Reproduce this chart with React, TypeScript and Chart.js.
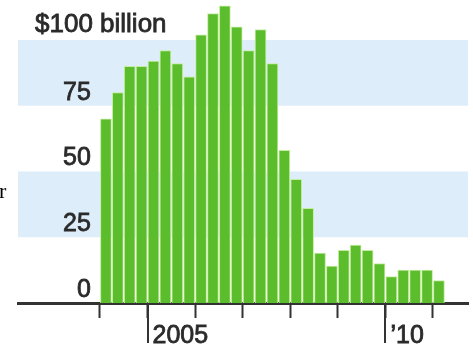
import React, { useEffect, useRef } from "react";
import { Chart, registerables } from "chart.js";

Chart.register(...registerables);

// Quarterly values, $ billion
const quarters = [
  "2004Q1", "2004Q2", "2004Q3", "2004Q4",
  "2005Q1", "2005Q2", "2005Q3", "2005Q4",
  "2006Q1", "2006Q2", "2006Q3", "2006Q4",
  "2007Q1", "2007Q2", "2007Q3", "2007Q4",
  "2008Q1", "2008Q2", "2008Q3", "2008Q4",
  "2009Q1", "2009Q2", "2009Q3", "2009Q4",
  "2010Q1", "2010Q2", "2010Q3", "2010Q4",
  "2011Q1",
];
const values = [
  70, 80, 90, 90,
  92, 96, 91, 86,
  102, 110, 113, 105,
  96, 104, 91, 58,
  47, 36, 19, 14,
  20, 22, 20, 15,
  10, 12.5, 12.5, 12.5,
  8.5,
];

const xTickYears = [2004, 2005, 2006, 2007, 2008, 2009, 2010, 2011];
const xTickLabels: Record<number, string> = { 2005: "2005", 2010: "\u201910" };
const longTickYears = [2005, 2010];

const yTickValues = [0, 25, 50, 75];
const yTopValue = 100;
const yTopLabel = "$100 billion";
const bandRanges: [number, number][] = [
  [75, 100],
  [25, 50],
];

const X_MIN = 2002.2763;
const X_MAX = 2011.736;
const Y_MAX = 115.2;

const FONT = '"Liberation Sans", Arial, sans-serif';
const TEXT = "#2a2a2a";
const STROKE = 0.8;

function quarterToX(q: string): number {
  const year = parseInt(q.slice(0, 4), 10);
  const qn = parseInt(q.slice(5), 10);
  return year + (qn - 0.5) / 4;
}

const decorPlugin = {
  id: "decor",
  beforeDraw(chart: any) {
    const { ctx, chartArea, scales } = chart;
    const y = scales.y;
    ctx.save();
    ctx.fillStyle = "#ddedfa";
    for (const [lo, hi] of bandRanges) {
      const t = y.getPixelForValue(hi);
      const b = y.getPixelForValue(lo);
      ctx.fillRect(chartArea.left, t, chartArea.right - chartArea.left, b - t);
    }
    ctx.restore();
  },
  afterDraw(chart: any) {
    const { ctx, scales } = chart;
    const x = scales.x;
    const y = scales.y;
    ctx.save();
    ctx.strokeStyle = "#333333";
    ctx.lineWidth = 2;
    for (const yr of longTickYears) {
      const px = Math.round(x.getPixelForValue(yr));
      ctx.beginPath();
      ctx.moveTo(px, x.top);
      ctx.lineTo(px, x.top + 40);
      ctx.stroke();
    }
    ctx.font = `26px ${FONT}`;
    ctx.fillStyle = TEXT;
    ctx.strokeStyle = TEXT;
    ctx.lineWidth = STROKE;
    ctx.textAlign = "left";
    ctx.textBaseline = "middle";
    const ty = y.getPixelForValue(yTopValue) - 15;
    ctx.strokeText(yTopLabel, 35, ty);
    ctx.fillText(yTopLabel, 35, ty);
    ctx.restore();
  },
};

function zeroPadding(scale: any) {
  scale.paddingTop = 0;
  scale.paddingBottom = 0;
  scale.paddingLeft = 0;
  scale.paddingRight = 0;
}

export default function App() {
  const canvasRef = useRef<HTMLCanvasElement | null>(null);

  useEffect(() => {
    const canvas = canvasRef.current;
    if (!canvas) return;
    const chart = new Chart(canvas, {
      type: "bar",
      data: {
        datasets: [
          {
            data: quarters.map((q, i) => ({ x: quarterToX(q), y: values[i] })),
            backgroundColor: "#5cbd2c",
            borderColor: "#c4eda0",
            borderWidth: 1,
            borderSkipped: "bottom",
            barThickness: 11,
          },
        ],
      },
      options: {
        animation: false,
        responsive: false,
        devicePixelRatio: 1,
        layout: { autoPadding: false, padding: { left: 18, right: 5, top: 0, bottom: 0 } },
        plugins: {
          legend: { display: false },
          tooltip: { enabled: false },
          title: { display: false },
        },
        scales: {
          x: {
            type: "linear",
            min: X_MIN,
            max: X_MAX,
            offset: false,
            z: 1,
            afterBuildTicks: (scale: any) => {
              scale.ticks = xTickYears.map((v) => ({ value: v }));
            },
            afterFit: (scale: any) => {
              scale.height = 46;
              zeroPadding(scale);
            },
            grid: {
              display: true,
              offset: false,
              drawOnChartArea: false,
              drawTicks: true,
              tickLength: 15,
              tickWidth: 2,
              tickColor: "#333333",
            },
            border: { display: true, color: "#333333", width: 3 },
            ticks: {
              autoSkip: false,
              maxRotation: 0,
              align: "start",
              labelOffset: 5,
              padding: 3,
              color: TEXT,
              textStrokeColor: TEXT,
              textStrokeWidth: STROKE,
              font: { family: FONT, size: 25 },
              callback: (v: any) => xTickLabels[Number(v)] ?? "",
            },
          },
          y: {
            type: "linear",
            min: 0,
            max: Y_MAX,
            afterBuildTicks: (scale: any) => {
              scale.ticks = yTickValues.map((v) => ({ value: v }));
            },
            afterFit: (scale: any) => {
              scale.width = 0;
              zeroPadding(scale);
            },
            grid: { display: false, drawTicks: false },
            border: { display: false },
            ticks: {
              mirror: true,
              crossAlign: "far",
              padding: 45,
              labelOffset: -13,
              color: TEXT,
              textStrokeColor: TEXT,
              textStrokeWidth: STROKE,
              font: { family: FONT, size: 25 },
              callback: (v: any) => String(v),
            },
          },
        },
      },
      plugins: [decorPlugin],
    });
    return () => chart.destroy();
  }, []);

  return (
    <div
      style={{
        position: "fixed",
        left: 0,
        top: 0,
        width: 473,
        height: 349,
        background: "#ffffff",
        overflow: "hidden",
      }}
    >
      <canvas
        ref={canvasRef}
        width={473}
        height={349}
        style={{ position: "absolute", left: 0, top: 0, width: 473, height: 349 }}
      />
      <span
        style={{
          position: "absolute",
          left: -1,
          top: 180,
          fontFamily: '"Liberation Serif", "Times New Roman", serif',
          fontSize: 22,
          lineHeight: 1,
          color: "#000",
        }}
      >
        r
      </span>
    </div>
  );
}
